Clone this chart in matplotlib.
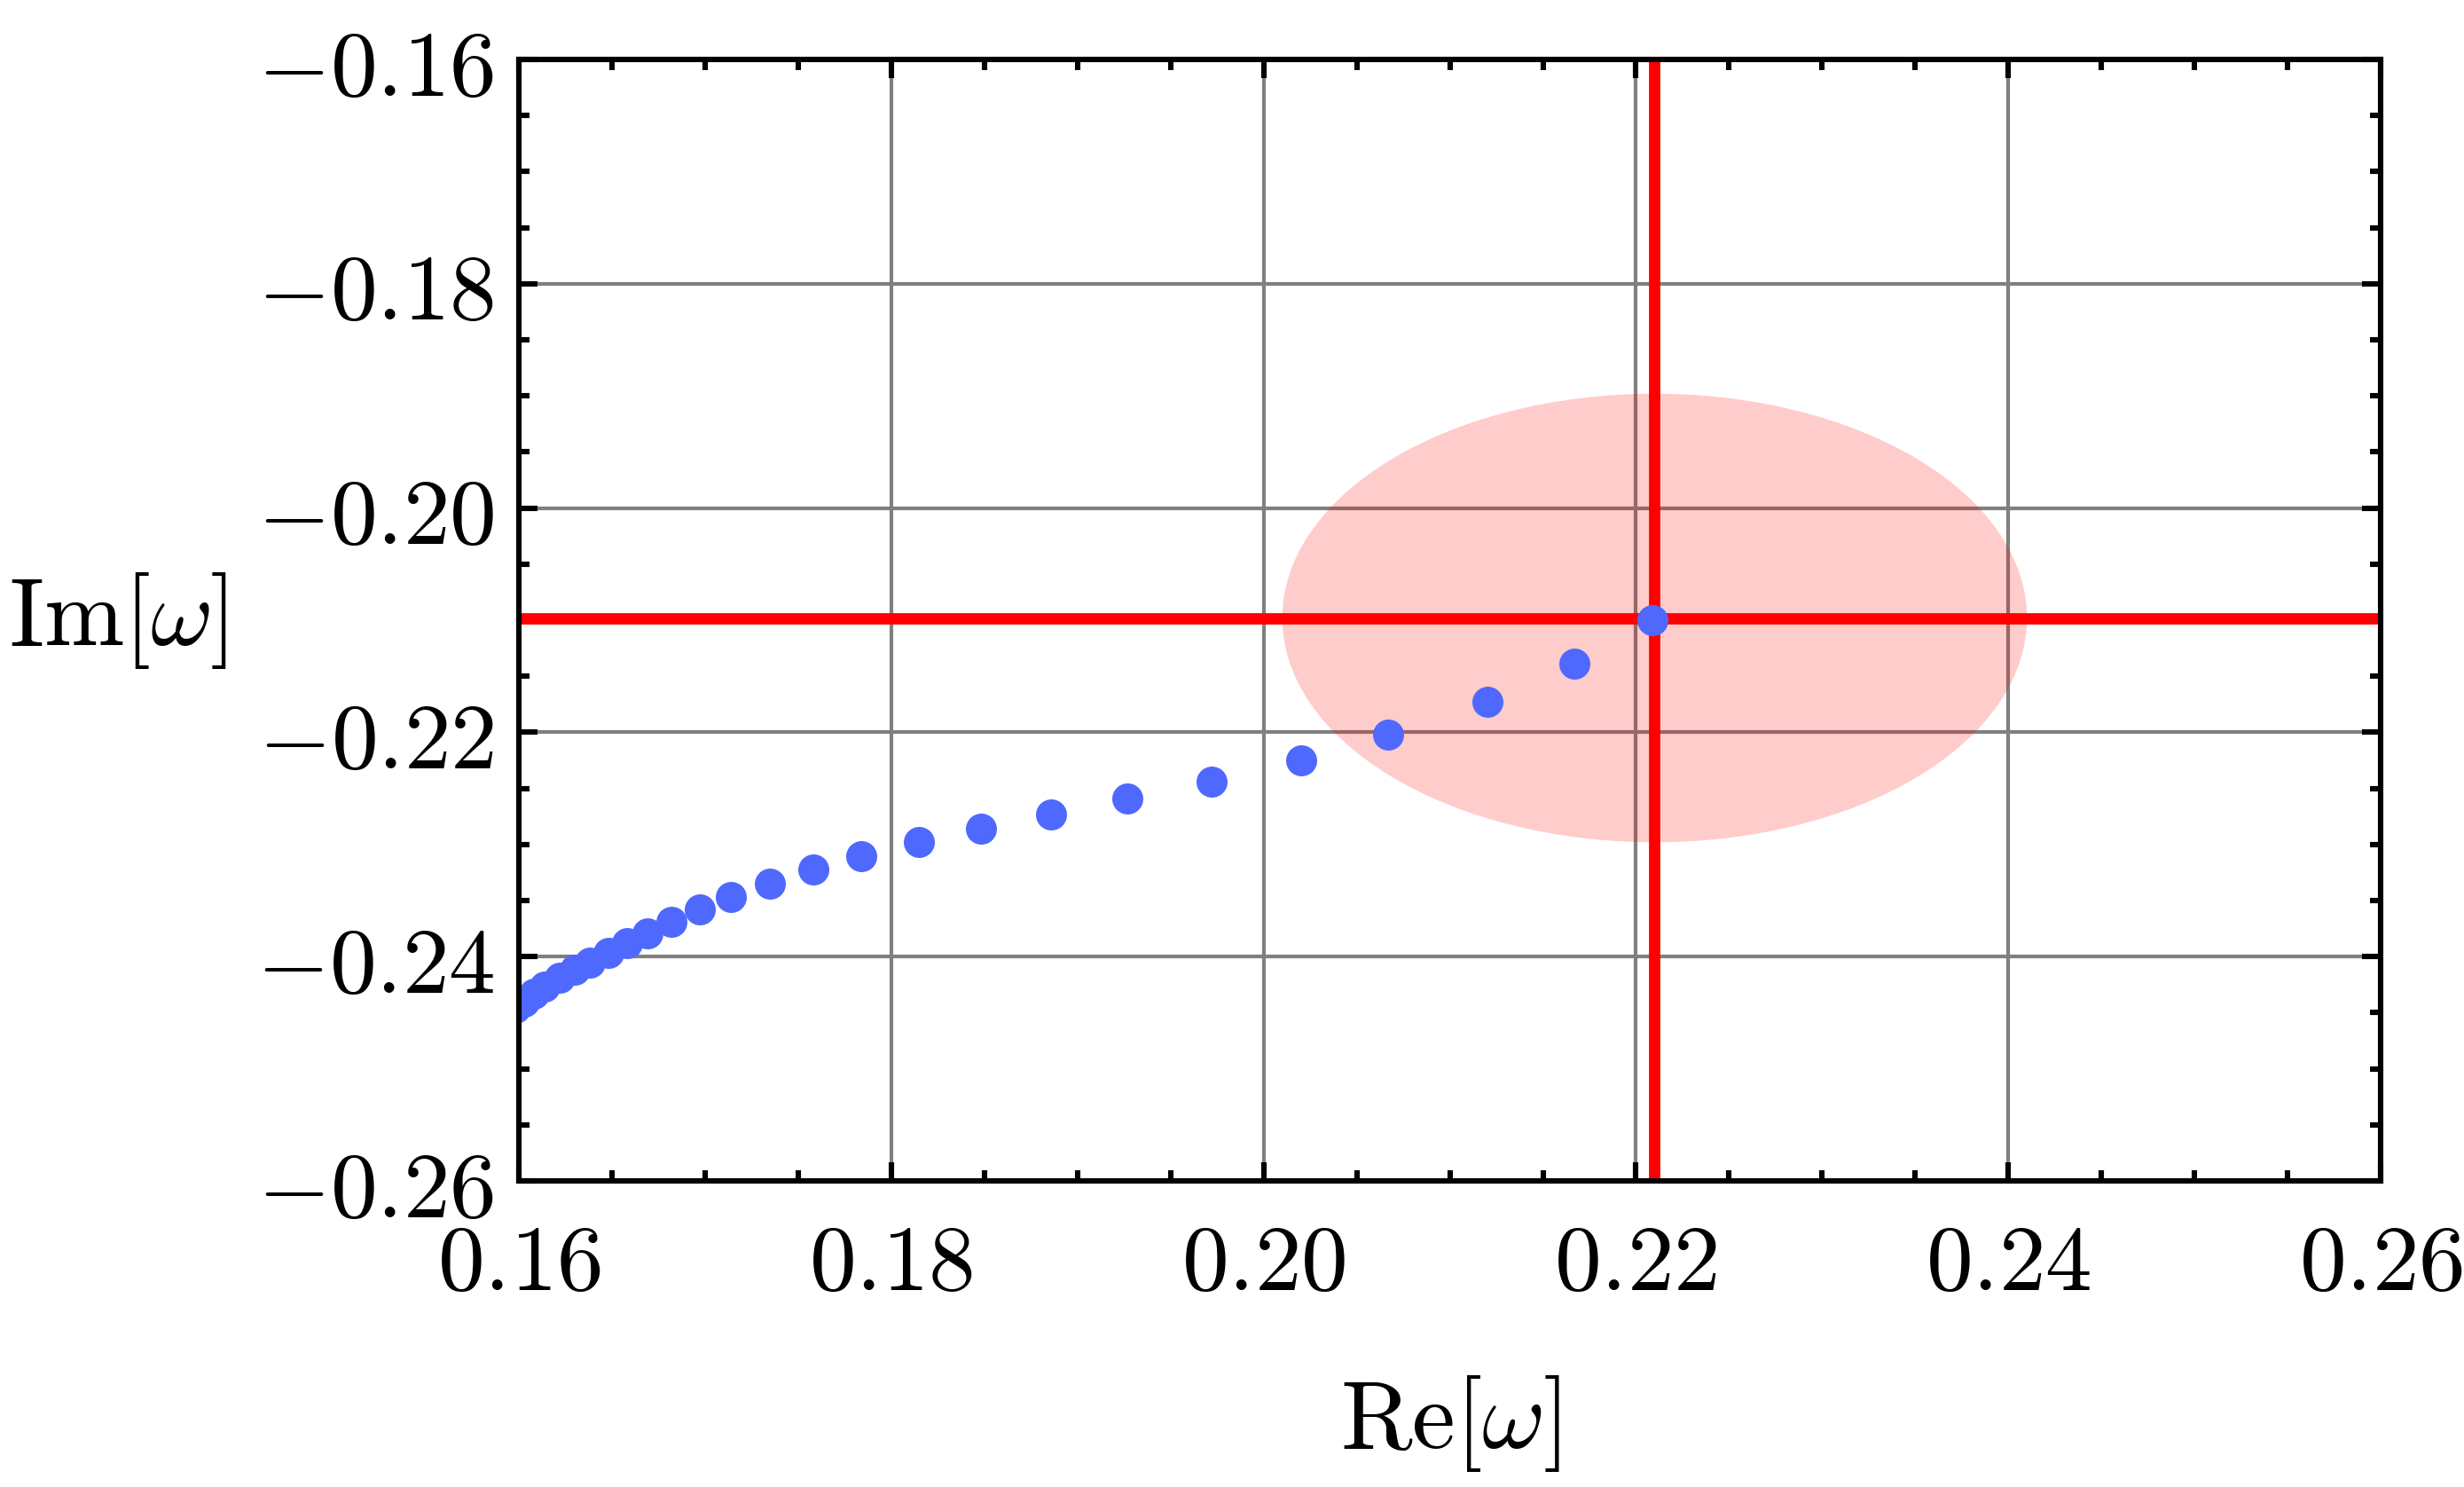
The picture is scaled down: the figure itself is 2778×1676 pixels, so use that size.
import numpy as np
import matplotlib
matplotlib.use("Agg")
import matplotlib.pyplot as plt
from matplotlib.patches import Ellipse
from matplotlib.ticker import MultipleLocator, FuncFormatter

plt.rcParams["mathtext.fontset"] = "cm"
plt.rcParams["font.family"] = "serif"

# QNM points (Re, Im)
re_w = [0.2209, 0.2167, 0.2120, 0.2067, 0.2020, 0.1972, 0.1927, 0.1886, 0.1848,
        0.1815, 0.1784, 0.1758, 0.1735, 0.1714, 0.1697, 0.1682, 0.1669, 0.1658,
        0.1648, 0.1638, 0.1630, 0.1622, 0.1614, 0.1608, 0.1603, 0.1598, 0.1593]
im_w = [-0.2100, -0.2139, -0.2173, -0.2202, -0.2225, -0.2244, -0.2259, -0.2273,
        -0.2286, -0.2298, -0.2310, -0.2322, -0.2335, -0.2347, -0.2358, -0.2369,
        -0.2379, -0.2388, -0.2397, -0.2405, -0.2412, -0.2419, -0.2427, -0.2433,
        -0.2440, -0.2446, -0.2453]

# target value and its uncertainty region
target_re = 0.221
target_im = -0.2098
region_radius = 0.02

x_ticks = [0.16, 0.18, 0.20, 0.22, 0.24, 0.26]
y_ticks = [-0.26, -0.24, -0.22, -0.20, -0.18, -0.16]

fig = plt.figure(figsize=(13.89, 8.38), dpi=200)
ax = fig.add_axes([0.2106, 0.2058, 0.7556, 0.7542])

ax.set_xlim(0.16, 0.26)
ax.set_ylim(-0.26, -0.16)
ax.set_axisbelow(True)
ax.grid(True, color="#808080", lw=1.5)

ax.add_patch(Ellipse((target_re, target_im), 2 * region_radius, 2 * region_radius,
                     facecolor="red", alpha=0.2, edgecolor="none", zorder=1))
ax.axvline(target_re, color="red", lw=4.6, zorder=2)
ax.axhline(target_im, color="red", lw=4.6, zorder=2)

ax.plot(re_w, im_w, "o", color="#4F69FF", markersize=12.6, mec="none", zorder=3)

ax.set_xticks(x_ticks)
ax.set_yticks(y_ticks)
ax.xaxis.set_minor_locator(MultipleLocator(0.005))
ax.yaxis.set_minor_locator(MultipleLocator(0.005))
fmt = FuncFormatter(lambda v, p: f"${v:.2f}$")
ax.xaxis.set_major_formatter(fmt)
ax.yaxis.set_major_formatter(fmt)

ax.tick_params(which="both", direction="in", top=True, right=True, width=2.2,
               labelsize=38, color="black")
ax.tick_params(which="major", length=7.5)
ax.tick_params(which="minor", length=4.2)
ax.tick_params(axis="x", pad=15)
ax.tick_params(axis="y", pad=10)

for s in ax.spines.values():
    s.set_linewidth(2.2)
    s.set_zorder(4)

ax.set_xlabel(r"$\mathrm{Re}[\omega]$", fontsize=39.5, va="center")
ax.xaxis.set_label_coords(0.5, -0.216)
ax.set_ylabel(r"$\mathrm{Im}[\omega]$", fontsize=39, rotation=0, ha="right", va="center")
ax.yaxis.set_label_coords(-0.157, 0.5)

fig.savefig("out.png", dpi=200)
